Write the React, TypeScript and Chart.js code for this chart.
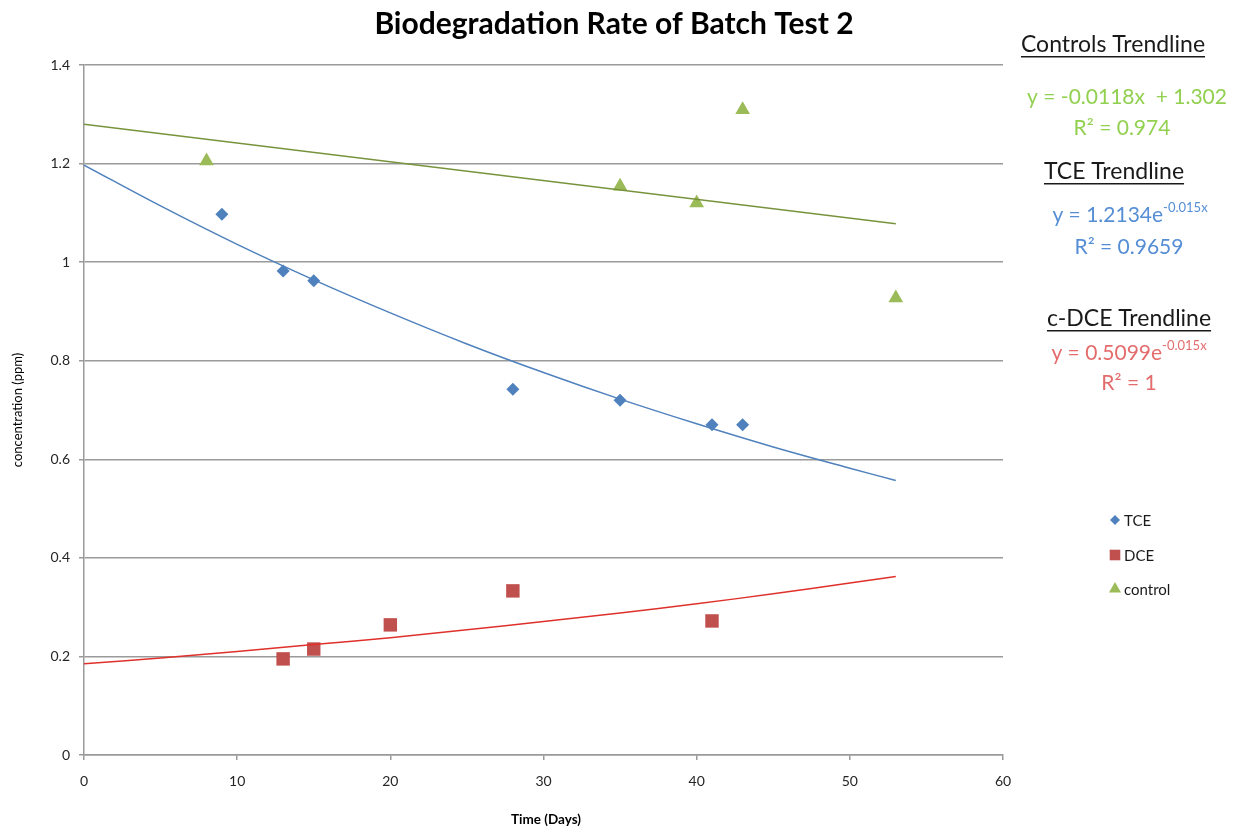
import React, { useEffect, useRef } from "react";
import { Chart, registerables } from "chart.js";

Chart.register(...registerables);

const tceDays = [9, 13, 15, 28, 35, 41, 43];
const tceConc = [1.097, 0.982, 0.962, 0.742, 0.72, 0.67, 0.67];
const dceDays = [13, 15, 20, 28, 41];
const dceConc = [0.195, 0.215, 0.264, 0.333, 0.272];
const ctlDays = [8, 35, 40, 43, 53];
const ctlConc = [1.205, 1.154, 1.12, 1.309, 0.927];

const trendDays = [0, 5, 10, 15, 20, 25, 30, 35, 40, 45, 50, 53];
const tceTrend = [1.197, 1.114, 1.036, 0.964, 0.897, 0.834, 0.776, 0.722, 0.672, 0.625, 0.582, 0.557];
const dceTrend = [0.185, 0.197, 0.21, 0.224, 0.238, 0.254, 0.271, 0.288, 0.307, 0.327, 0.349, 0.362];
const ctlTrendDays = [0, 53];
const ctlTrend = [1.28, 1.078];

const yTicks = [0, 0.2, 0.4, 0.6, 0.8, 1, 1.2, 1.4];
const xTicks = [0, 10, 20, 30, 40, 50, 60];

const BLUE = "#4F81BD";
const RED = "#C0504D";
const GREEN = "#9BBB59";
const FONT = "Lato, 'Open Sans', sans-serif";

const pts = (xs: number[], ys: number[]) => xs.map((x, i) => ({ x, y: ys[i] }));

export default function App() {
  const ref = useRef<HTMLCanvasElement | null>(null);
  useEffect(() => {
    if (!ref.current) return;
    function drawPoint(ctx: CanvasRenderingContext2D, style: string, r: number, x: number, y: number) {
      ctx.beginPath();
      if (style === "rectRot") {
        ctx.moveTo(x, y - r);
        ctx.lineTo(x + r, y);
        ctx.lineTo(x, y + r);
        ctx.lineTo(x - r, y);
      } else if (style === "rect") {
        const s = r * Math.SQRT1_2;
        ctx.rect(x - s, y - s, 2 * s, 2 * s);
      } else {
        ctx.moveTo(x, y - r);
        ctx.lineTo(x + r * 0.866, y + r / 2);
        ctx.lineTo(x - r * 0.866, y + r / 2);
      }
      ctx.closePath();
      ctx.fill();
    }
    const textPlugin = {
      id: "texts",
      afterDraw(chart: any) {
        const ctx = chart.ctx;
        const ca = chart.chartArea;
        ctx.save();
        ctx.fillStyle = "#000";
        ctx.font = `bold 30px ${FONT}`;
        ctx.textAlign = "center";
        ctx.textBaseline = "middle";
        ctx.fillText("Biodegradation Rate of Batch Test 2", 614, 24);
        ctx.font = `13px ${FONT}`;
        ctx.save();
        ctx.translate(18, (ca.top + ca.bottom) / 2);
        ctx.rotate(-Math.PI / 2);
        ctx.fillText("concentration (ppm)", 0, 0);
        ctx.restore();
        ctx.font = `bold 13.5px ${FONT}`;
        ctx.fillText("Time (Days)", 546, 820);

        const heading = (t: string, cx: number, cy: number) => {
          ctx.font = `23px ${FONT}`;
          ctx.fillStyle = "#1a1a1a";
          ctx.textAlign = "center";
          ctx.fillText(t, cx, cy);
          const w = ctx.measureText(t).width;
          ctx.fillRect(cx - w / 2, cy + 11, w, 1.5);
        };
        const eq = (parts: { t: string; sup?: boolean }[], cx: number, cy: number, color: string) => {
          ctx.fillStyle = color;
          let total = 0;
          for (const p of parts) {
            ctx.font = p.sup ? `13px ${FONT}` : `21px ${FONT}`;
            total += ctx.measureText(p.t).width;
          }
          let x = cx - total / 2;
          ctx.textAlign = "left";
          for (const p of parts) {
            ctx.font = p.sup ? `13px ${FONT}` : `21px ${FONT}`;
            ctx.fillText(p.t, x, p.sup ? cy - 7 : cy);
            x += ctx.measureText(p.t).width;
          }
          ctx.textAlign = "center";
        };
        heading("Controls Trendline", 1113, 45);
        eq([{ t: "y = -0.0118x  + 1.302" }], 1127, 97, "#92D050");
        eq([{ t: "R² = 0.974" }], 1122, 128, "#92D050");
        heading("TCE Trendline", 1114, 172);
        eq([{ t: "y = 1.2134e" }, { t: "-0.015x", sup: true }], 1130, 215, "#558ED5");
        eq([{ t: "R² = 0.9659" }], 1129, 247, "#558ED5");
        heading("c-DCE Trendline", 1129, 319);
        eq([{ t: "y = 0.5099e" }, { t: "-0.015x", sup: true }], 1129, 353, "#E46C6C");
        eq([{ t: "R² = 1" }], 1129, 383, "#E46C6C");

        const items = [
          { label: "TCE", style: "rectRot", r: 5, color: BLUE, y: 520 },
          { label: "DCE", style: "rect", r: 7.5, color: RED, y: 555 },
          { label: "control", style: "triangle", r: 7, color: GREEN, y: 589 },
        ];
        ctx.font = `15px ${FONT}`;
        ctx.textAlign = "left";
        for (const it of items) {
          ctx.fillStyle = it.color;
          drawPoint(ctx, it.style, it.r, 1115, it.y);
          ctx.fillStyle = "#1a1a1a";
          ctx.fillText(it.label, 1124, it.y + 1);
        }
        ctx.restore();
      },
    };

    const chart = new Chart(ref.current, {
      type: "scatter",
      data: {
        datasets: [
          { label: "TCE trend", type: "line", data: pts(trendDays, tceTrend), borderColor: BLUE, borderWidth: 1.5, pointRadius: 0, tension: 0.4, fill: false } as any,
          { label: "DCE trend", type: "line", data: pts(trendDays, dceTrend), borderColor: "#E0302A", borderWidth: 1.5, pointRadius: 0, tension: 0.4, fill: false } as any,
          { label: "control trend", type: "line", data: pts(ctlTrendDays, ctlTrend), borderColor: "#77933C", borderWidth: 1.5, pointRadius: 0, fill: false } as any,
          { label: "TCE", data: pts(tceDays, tceConc), pointStyle: "rectRot", pointRadius: 6.5, backgroundColor: BLUE, borderColor: BLUE, borderWidth: 0 },
          { label: "DCE", data: pts(dceDays, dceConc), pointStyle: "rect", pointRadius: 9.5, backgroundColor: RED, borderColor: RED, borderWidth: 0 },
          { label: "control", data: pts(ctlDays, ctlConc), pointStyle: "triangle", pointRadius: 8.5, backgroundColor: GREEN, borderColor: GREEN, borderWidth: 0 },
        ],
      },
      options: {
        responsive: false,
        animation: false,
        layout: { padding: { top: 65, right: 235, left: 0, bottom: 0 } },
        plugins: { legend: { display: false }, tooltip: { enabled: false }, title: { display: false } },
        scales: {
          x: {
            type: "linear",
            min: 0,
            max: 60,
            afterFit: (s: any) => { s.height = 79; },
            afterBuildTicks: (s: any) => { s.ticks = xTicks.map((v) => ({ value: v })); },
            grid: { drawOnChartArea: false, drawTicks: true, tickLength: 5, color: "#9a9a9a", lineWidth: 1.5 },
            border: { display: true, color: "#9a9a9a", width: 1.5 },
            ticks: { color: "#262626", font: { family: FONT, size: 14 }, padding: 13 },
          },
          y: {
            type: "linear",
            min: 0,
            max: 1.4,
            afterFit: (s: any) => { s.width = 84; },
            afterBuildTicks: (s: any) => { s.ticks = yTicks.map((v) => ({ value: v })); },
            grid: { drawTicks: true, tickLength: 5, color: "#9a9a9a", lineWidth: 1.5 },
            border: { display: true, color: "#9a9a9a", width: 1.5 },
            ticks: { color: "#262626", font: { family: FONT, size: 14 }, padding: 9, callback: (v: any) => String(Math.round(Number(v) * 10) / 10) },
          },
        },
      },
      plugins: [textPlugin],
    } as any);
    return () => chart.destroy();
  }, []);
  return (
    <div style={{ position: "fixed", left: 0, top: 0, width: 1238, height: 834, background: "#fff" }}>
      <canvas ref={ref} width={1238} height={834} />
    </div>
  );
}
